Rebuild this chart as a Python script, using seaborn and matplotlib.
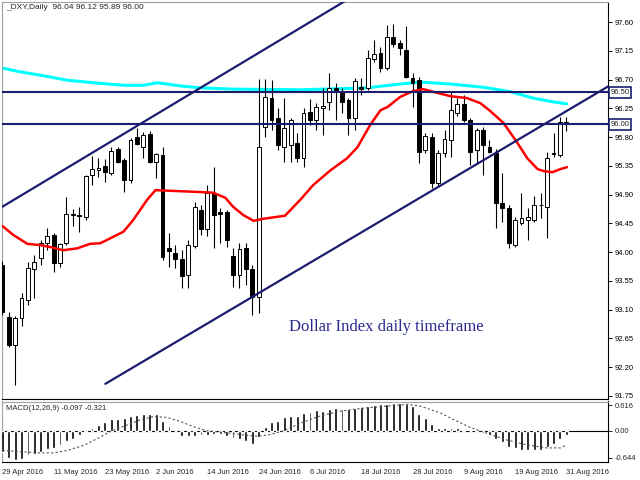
import matplotlib
matplotlib.use("Agg")
import matplotlib.pyplot as plt
import numpy as np
import pandas as pd
import seaborn as sns

# DXY daily candles, 29 Apr 2016 .. 31 Aug 2016
opens = [93.80, 92.99, 92.55, 92.97, 93.25, 93.74, 93.91, 94.14, 94.27, 93.83,
         94.14, 94.58, 94.58, 94.55, 95.21, 95.28, 95.35, 95.24, 95.61, 95.44,
         95.13, 95.80, 95.64, 95.85, 95.41, 95.52, 94.06, 93.99, 93.89, 93.64,
         94.10, 94.66, 94.36, 94.93, 94.63, 94.63, 93.94, 93.64, 94.06, 93.74,
         93.30, 95.96, 96.41, 96.10, 95.64, 95.68, 95.71, 95.47, 96.19, 96.07,
         96.25, 96.35, 96.57, 96.51, 96.38, 96.10, 96.58, 96.57, 97.02, 97.12,
         96.88, 97.37, 97.27, 97.16, 96.72, 96.69, 95.60, 95.80, 95.08, 95.55,
         95.75, 96.18, 96.32, 96.07, 95.60, 95.91, 95.64, 95.55, 94.77, 94.69,
         94.11, 94.46, 94.50, 94.50, 94.74, 94.71, 95.55, 95.52, 96.04]
highs = [93.86, 93.06, 93.00, 93.36, 93.85, 93.96, 94.19, 94.38, 94.30, 94.14,
         94.86, 94.67, 94.71, 95.20, 95.50, 95.47, 95.46, 95.64, 95.64, 95.47,
         95.78, 95.94, 95.88, 95.89, 95.55, 95.64, 94.30, 94.11, 94.03, 94.19,
         94.78, 94.74, 95.05, 95.33, 94.69, 94.66, 94.06, 94.14, 94.14, 93.80,
         96.71, 96.71, 96.69, 96.25, 96.41, 96.10, 95.86, 96.25, 96.40, 96.33,
         96.57, 96.80, 96.65, 96.57, 96.41, 96.72, 96.72, 97.16, 97.32, 97.21,
         97.55, 97.57, 97.32, 97.54, 96.80, 96.74, 95.86, 95.86, 95.60, 95.91,
         96.51, 96.41, 96.46, 96.10, 95.94, 95.96, 95.75, 95.61, 95.24, 94.74,
         94.55, 94.93, 94.69, 94.88, 94.93, 95.57, 95.86, 96.11, 96.12]
lows = [93.02, 92.52, 91.92, 92.84, 93.17, 93.28, 93.80, 94.03, 93.69, 93.77,
        94.11, 94.41, 94.32, 94.50, 95.05, 95.18, 95.10, 95.21, 95.39, 94.94,
        95.08, 95.68, 95.47, 95.39, 95.16, 93.88, 93.77, 93.75, 93.44, 93.44,
        94.06, 94.27, 94.25, 94.06, 94.14, 94.08, 93.45, 93.44, 93.49, 93.02,
        93.05, 95.80, 95.91, 95.60, 95.41, 95.41, 95.41, 95.33, 95.99, 95.91,
        95.83, 96.22, 96.07, 96.18, 95.83, 95.91, 96.46, 96.54, 96.97, 96.82,
        96.85, 97.21, 97.08, 96.72, 96.27, 95.39, 95.55, 95.00, 95.03, 95.49,
        95.49, 96.13, 96.04, 95.36, 95.39, 95.21, 95.55, 94.38, 94.47, 94.06,
        94.08, 94.42, 94.19, 94.47, 94.53, 94.22, 95.49, 95.49, 95.89]
closes = [93.06, 92.55, 92.97, 93.28, 93.75, 93.85, 94.14, 94.25, 93.83, 94.13,
          94.60, 94.59, 94.57, 95.19, 95.30, 95.32, 95.25, 95.58, 95.41, 95.13,
          95.75, 95.69, 95.83, 95.41, 95.54, 93.92, 94.02, 93.89, 93.63, 94.11,
          94.71, 94.36, 94.93, 94.58, 94.60, 94.19, 93.64, 94.05, 93.74, 93.30,
          95.64, 96.43, 96.07, 95.68, 95.94, 96.07, 95.47, 96.18, 96.07, 96.27,
          96.29, 96.57, 96.51, 96.35, 96.10, 96.68, 96.55, 97.04, 97.10, 96.88,
          97.37, 97.26, 97.19, 96.74, 96.65, 95.57, 95.82, 95.08, 95.55, 95.77,
          96.22, 96.32, 96.07, 95.57, 95.91, 95.68, 95.57, 94.77, 94.69, 94.14,
          94.50, 94.53, 94.55, 94.74, 94.73, 95.47, 95.54, 96.04, 96.00]

# moving averages (bar position, price)
red_x = [0, 1.7, 3.9, 5.9, 7.5, 9.5, 11.7, 13.7, 15.3, 17.3, 18.9, 20.4, 22.6, 23.9,
         26.2, 30.9, 32.9, 34.8, 36.0, 37.6, 39.2, 40.6, 44.1, 46.5, 48.5, 51.2,
         53.8, 55.4, 57.4, 59.0, 60.1, 62.1, 64.1, 65.7, 67.9, 69.9, 72.5, 74.6,
         76.1, 78.2, 80.3, 81.9, 83.5, 84.4, 85.8, 87.1, 88.1]
red_y = [94.41, 94.27, 94.13, 94.11, 94.08, 94.03, 94.06, 94.13, 94.14, 94.24, 94.32,
         94.50, 94.82, 94.97, 94.96, 94.94, 94.93, 94.85, 94.71, 94.58, 94.49, 94.52,
         94.57, 94.82, 95.05, 95.28, 95.47, 95.64, 95.99, 96.22, 96.27, 96.43, 96.52,
         96.55, 96.49, 96.44, 96.41, 96.33, 96.21, 96.02, 95.72, 95.47, 95.30, 95.27,
         95.25, 95.30, 95.33]
cyan_x = [0, 2.8, 6.4, 10.1, 14.2, 18.9, 22.0, 24.2, 27.8, 30.9, 36.0, 46.5, 56.9,
          62.1, 65.2, 69.9, 75.0, 79.3, 82.8, 86.0, 88.1]
cyan_y = [96.88, 96.82, 96.76, 96.69, 96.65, 96.61, 96.61, 96.65, 96.60, 96.57, 96.55,
          96.54, 96.57, 96.63, 96.66, 96.63, 96.58, 96.51, 96.41, 96.35, 96.32]

# channel trend lines and horizontal levels
upper_x = [0, 56]
upper_y = [94.71, 98.08]
lower_x = [16.07, 96]
lower_y = [91.94, 96.68]
levels = [96.50, 96.00]

# MACD(12,26,9)
macd = [-0.51, -0.66, -0.69, -0.67, -0.59, -0.55, -0.50, -0.43, -0.41, -0.35,
        -0.25, -0.19, -0.11, -0.02, 0.06, 0.14, 0.20, 0.28, 0.28, 0.30,
        0.36, 0.38, 0.41, 0.40, 0.40, 0.24, 0.12, -0.01, -0.13, -0.13,
        -0.13, -0.11, -0.09, -0.07, -0.08, -0.12, -0.17, -0.20, -0.24, -0.32,
        -0.16, 0.08, 0.20, 0.24, 0.34, 0.36, 0.36, 0.42, 0.46, 0.49,
        0.48, 0.53, 0.54, 0.52, 0.53, 0.54, 0.56, 0.59, 0.61, 0.63,
        0.65, 0.67, 0.67, 0.63, 0.59, 0.41, 0.30, 0.15, 0.06, 0.06,
        0.06, 0.06, 0.03, -0.01, -0.02, -0.05, -0.09, -0.20, -0.27, -0.39,
        -0.41, -0.46, -0.47, -0.47, -0.45, -0.39, -0.31, -0.20, -0.10]
signal_x = [0, 2.8, 5.9, 8.0, 10.1, 12.7, 15.3, 16.8, 19.5, 21.5, 23.6, 25.7, 27.8,
            29.8, 31.9, 35.1, 38.2, 40.0, 41.8, 43.9, 46.5, 49.3, 52.7, 56.3, 60.0,
            63.2, 65.2, 68.3, 70.4, 73.0, 75.6, 78.7, 81.9, 85.0, 87.1, 88.0]
signal_y = [-0.47, -0.50, -0.53, -0.53, -0.47, -0.35, -0.15, -0.02, 0.14, 0.26, 0.34,
            0.32, 0.22, 0.10, 0.00, -0.05, -0.11, -0.13, -0.09, 0.00, 0.18, 0.34,
            0.47, 0.54, 0.59, 0.63, 0.59, 0.43, 0.27, 0.08, -0.06, -0.22, -0.34,
            -0.41, -0.41, -0.34]

date_pos = [0, 8, 16, 24, 32, 40, 48, 56, 64, 72, 80, 88]
date_labels = ["29 Apr 2016", "11 May 2016", "23 May 2016", "2 Jun 2016",
               "14 Jun 2016", "24 Jun 2016", "6 Jul 2016", "18 Jul 2016",
               "28 Jul 2016", "9 Aug 2016", "19 Aug 2016", "31 Aug 2016"]
price_ticks = [91.75, 92.20, 92.65, 93.10, 93.55, 94.00, 94.45, 94.90, 95.35,
               95.80, 96.25, 96.70, 97.15, 97.60]

df = pd.DataFrame({"open": opens, "high": highs, "low": lows, "close": closes})
df["bar"] = np.arange(len(df))
df["up"] = df["close"] >= df["open"]
df["body_lo"] = df[["open", "close"]].min(axis=1)
df["body_h"] = (df["close"] - df["open"]).abs().clip(lower=0.008)

sns.set_style("white")
plt.rcParams["font.family"] = ["Liberation Sans", "DejaVu Sans"]
navy = "#1c1c6e"

fig = plt.figure(figsize=(6.4, 4.8), dpi=100)
ax = fig.add_axes([2 / 640, 1 - 399 / 480, 606 / 640, 397 / 480])
ax2 = fig.add_axes([2 / 640, 1 - 461.7 / 480, 606 / 640, 60.2 / 480])

# candles
ax.vlines(df["bar"], df["low"], df["high"], color="black", lw=0.8, zorder=3)
ax.bar(df["bar"], df["body_h"], bottom=df["body_lo"], width=0.6,
       color=np.where(df["up"], "white", "black"), edgecolor="black", lw=0.7, zorder=4)

sns.lineplot(x=cyan_x, y=cyan_y, ax=ax, color="#00ffff", lw=2.2, sort=False, estimator=None, zorder=2)
sns.lineplot(x=red_x, y=red_y, ax=ax, color="#ff0000", lw=1.8, sort=False, estimator=None, zorder=5)
ax.plot(upper_x, upper_y, color=navy, lw=1.6, zorder=6)
ax.plot(lower_x, lower_y, color=navy, lw=1.6, zorder=6)
for lv in levels:
    ax.axhline(lv, color=navy, lw=1.5, zorder=6)

ax.set_xlim(-0.05, 94.5)
ax.set_ylim(91.703, 97.913)
ax.set_xticks([])
ax.yaxis.tick_right()
ax.set_yticks(price_ticks)
ax.set_yticklabels(["%.2f" % v for v in price_ticks])
ax.tick_params(axis="y", direction="out", length=3, width=0.7, pad=2, labelsize=5.5, colors="black")
for s in ["left", "top"]:
    ax.spines[s].set_color("#a0a0a0")
for s in ["right", "bottom"]:
    ax.spines[s].set_color("black")
for lv in levels:
    ax.text(1.004, lv, "%.2f" % lv, transform=ax.get_yaxis_transform(), fontsize=5.5,
            va="center", ha="left", clip_on=False,
            bbox=dict(boxstyle="square,pad=0.25", fc="white", ec=navy, lw=1.2))

ax.text(0.006, 0.985, "_DXY,Daily  96.04 96.12 95.89 96.00", transform=ax.transAxes,
        fontsize=6, va="center", ha="left")
ax.text(0.6345, 0.181, "Dollar Index daily timeframe", transform=ax.transAxes,
        fontsize=12, family="Liberation Serif", color="#2b2b8c", ha="center", va="center")

# MACD panel
ax2.bar(np.arange(len(macd)), macd, width=0.45, color="black", zorder=3)
ax2.axhline(0, color="black", lw=0.8, zorder=2)
sns.lineplot(x=signal_x, y=signal_y, ax=ax2, color="#555555", lw=0.8, linestyle=(0, (2, 2)),
             sort=False, estimator=None, zorder=4)
ax2.set_xlim(-0.05, 94.5)
ax2.set_ylim(-0.74, 0.70)
ax2.yaxis.tick_right()
ax2.set_yticks([0.616, 0.0, -0.644])
ax2.set_yticklabels(["0.616", "0.00", "-0.644"])
ax2.tick_params(axis="y", direction="out", length=3, width=0.7, pad=2, labelsize=5.5)
ax2.set_xticks(date_pos)
ax2.set_xticklabels(date_labels, ha="left")
ax2.tick_params(axis="x", direction="out", length=3, width=0.7, pad=2, labelsize=5.5)
for s in ["left", "top"]:
    ax2.spines[s].set_color("#a0a0a0")
for s in ["right", "bottom"]:
    ax2.spines[s].set_color("black")
ax2.text(0.006, 0.88, "MACD(12,26,9) -0.097 -0.321", transform=ax2.transAxes,
         fontsize=5.5, va="center", ha="left")

plt.savefig("out.png", dpi=100)
plt.close()
